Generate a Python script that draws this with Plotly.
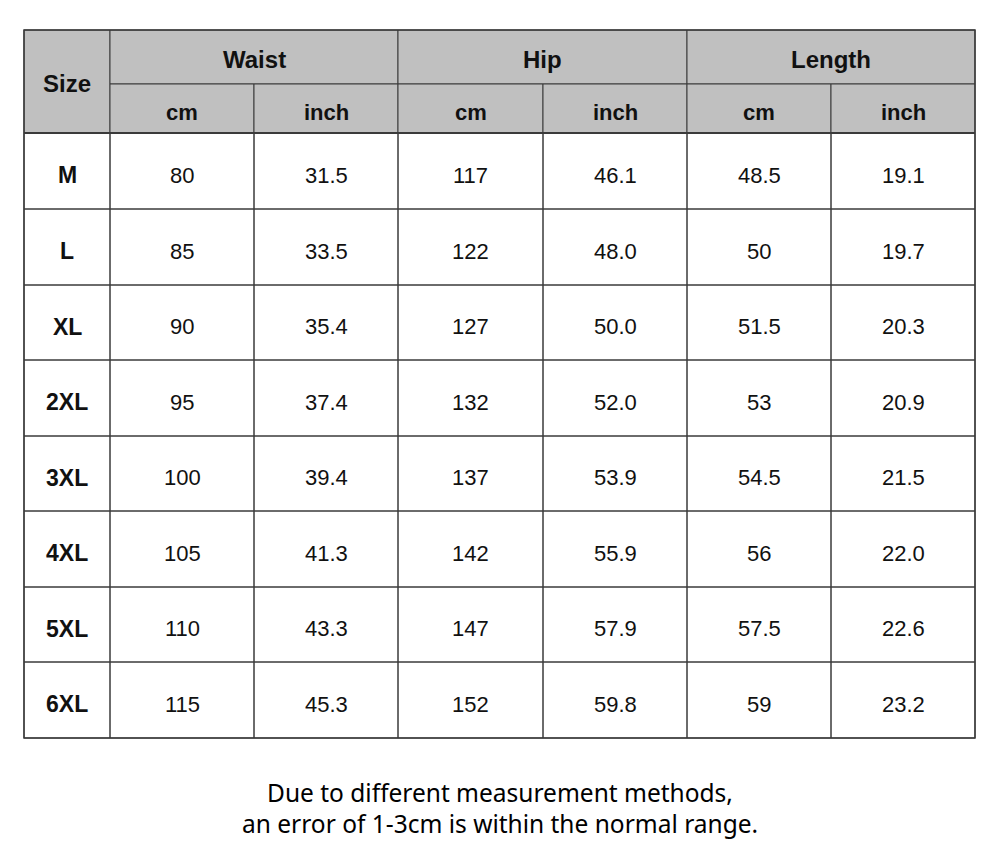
import plotly.graph_objects as go

# table content
sizes = ["M", "L", "XL", "2XL", "3XL", "4XL", "5XL", "6XL"]
groups = ["Waist", "Hip", "Length"]
units = ["cm", "inch"]
waist_cm = ["80", "85", "90", "95", "100", "105", "110", "115"]
waist_inch = ["31.5", "33.5", "35.4", "37.4", "39.4", "41.3", "43.3", "45.3"]
hip_cm = ["117", "122", "127", "132", "137", "142", "147", "152"]
hip_inch = ["46.1", "48.0", "50.0", "52.0", "53.9", "55.9", "57.9", "59.8"]
length_cm = ["48.5", "50", "51.5", "53", "54.5", "56", "57.5", "59"]
length_inch = ["19.1", "19.7", "20.3", "20.9", "21.5", "22.0", "22.6", "23.2"]
note = ["Due to different measurement methods,",
        "an error of 1-3cm is within the normal range."]

columns = [waist_cm, waist_inch, hip_cm, hip_inch, length_cm, length_inch]

# layout in pixels (screen coordinates)
col_x = [24, 110, 254, 398, 543, 687, 831, 975]
row_y = [30, 84, 133, 209, 285, 360, 436, 511, 587, 662, 738]
head_fill = "#c0c0c0"
line_col = "#3a3a3a"
W, H = 1000, 858
PAGE = 8  # body margin of the html page

shapes = []
annotations = []

def rect(x0, x1, y0, y1, fill="rgba(0,0,0,0)", width=1):
    shapes.append(dict(type="rect", xref="x", yref="y", x0=x0, x1=x1, y0=y0, y1=y1,
                       fillcolor=fill, line=dict(color=line_col, width=width), layer="below"))

def text(x, y, s, size=22, bold=False, yshift=-2):
    annotations.append(dict(x=x, y=y, xref="x", yref="y", text=f"<b>{s}</b>" if bold else s,
                            showarrow=False, yshift=yshift,
                            font=dict(family="Liberation Sans, Arial", size=size, color="#111111")))

# header
rect(col_x[0], col_x[1], row_y[0], row_y[2], head_fill)
text((col_x[0] + col_x[1]) / 2, (row_y[0] + row_y[2]) / 2, "Size", 24, True)
for g, name in enumerate(groups):
    x0, x1 = col_x[1 + 2 * g], col_x[3 + 2 * g]
    rect(x0, x1, row_y[0], row_y[1], head_fill)
    text((x0 + x1) / 2, (row_y[0] + row_y[1]) / 2, name, 24, True)
    for u, unit in enumerate(units):
        a, b = col_x[1 + 2 * g + u], col_x[2 + 2 * g + u]
        rect(a, b, row_y[1], row_y[2], head_fill)
        text((a + b) / 2, (row_y[1] + row_y[2]) / 2, unit, 22, True, -4)

# body
for r, s in enumerate(sizes):
    y0, y1 = row_y[2 + r], row_y[3 + r]
    rect(col_x[0], col_x[1], y0, y1)
    text((col_x[0] + col_x[1]) / 2, (y0 + y1) / 2, s, 23, True, -4)
    for c, col in enumerate(columns):
        a, b = col_x[1 + c], col_x[2 + c]
        rect(a, b, y0, y1)
        text((a + b) / 2, (y0 + y1) / 2, col[r], 22, False, -4)

# thicker header bottom and border
shapes.append(dict(type="line", xref="x", yref="y", x0=col_x[0], x1=col_x[-1], y0=row_y[2], y1=row_y[2],
                   line=dict(color=line_col, width=2)))
rect(col_x[0], col_x[-1], row_y[0], row_y[-1], width=1.5)

for i, line in enumerate(note):
    annotations.append(dict(x=W / 2, y=792 + 31 * i, xref="x", yref="y", text=line, showarrow=False,
                            font=dict(family="Noto Sans, Open Sans", size=24.5, color="#000000")))

fig = go.Figure()
fig.add_trace(go.Scatter(x=[PAGE, W], y=[PAGE, H], mode="markers", marker=dict(opacity=0),
                         hoverinfo="skip", showlegend=False))
fig.update_layout(
    width=W, height=H,
    margin=dict(l=0, r=0, t=0, b=0),
    paper_bgcolor="white", plot_bgcolor="white",
    shapes=shapes, annotations=annotations,
    xaxis=dict(range=[PAGE, W + PAGE], visible=False, fixedrange=True),
    yaxis=dict(range=[H + PAGE, PAGE], visible=False, fixedrange=True),
    showlegend=False,
)
fig.write_html("out.html", config={"displayModeBar": False})
